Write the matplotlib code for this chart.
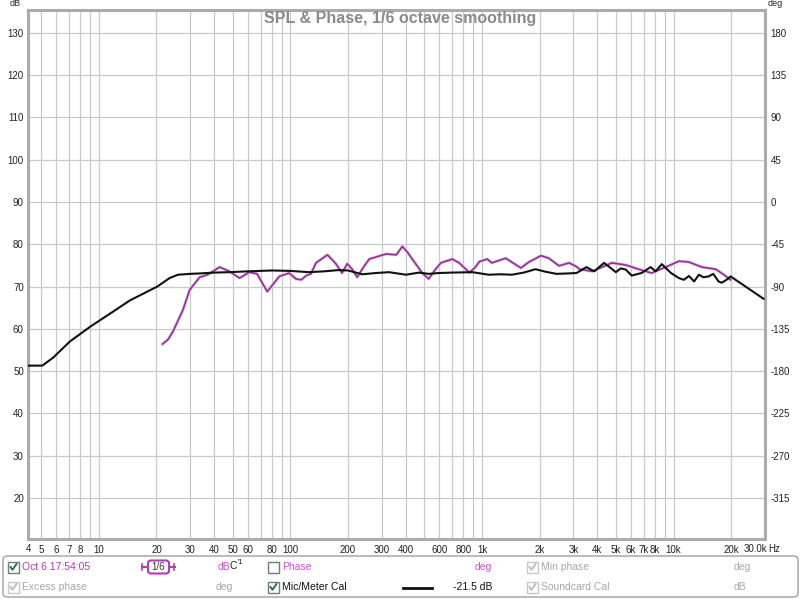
import matplotlib
matplotlib.use("Agg")
import matplotlib.pyplot as plt
from matplotlib.patches import FancyBboxPatch, Rectangle
from matplotlib.lines import Line2D

# ---------------- data ----------------
cal_freq = [4.27, 5.07, 5.78, 7.06, 9.08, 11.9, 14.5, 20.2, 23.4, 25.9, 30, 33.6, 40, 48,
            60, 80, 100, 125, 150, 179, 200, 237, 280, 327, 401, 469, 527, 594, 700, 890,
            1085, 1250, 1432, 1650, 1903, 2150, 2448, 2800, 3117, 3506, 3852, 4338, 4999,
            5300, 5630, 6044, 6806, 7584, 8060, 8677, 9694, 10665, 11300, 12035, 12800,
            13549, 14300, 15254, 16100, 17175, 17800, 18900, 19834, 29500]
cal_db = [51.3, 51.3, 53.2, 57.0, 60.6, 64.1, 66.7, 70.0, 72.0, 72.8, 73.0, 73.1, 73.3, 73.4,
          73.6, 73.8, 73.7, 73.4, 73.6, 73.9, 73.8, 72.9, 73.2, 73.4, 72.8, 73.3, 73.0, 73.2,
          73.3, 73.4, 72.8, 72.9, 72.8, 73.3, 74.1, 73.5, 73.0, 73.1, 73.2, 74.6, 73.6, 75.6,
          73.4, 74.3, 74.0, 72.6, 73.2, 74.6, 73.6, 75.3, 73.2, 72.0, 71.6, 72.5, 71.2,
          72.8, 72.2, 72.4, 73.0, 71.2, 70.9, 71.6, 72.4, 67.1]

meas_freq = [21.5, 23, 24.4, 27.5, 29.8, 33.6, 37, 42.7, 48, 54.3, 61, 67, 75.7, 87.5, 98.6,
             107, 114, 121, 128, 136, 156, 172, 186, 198, 211, 223, 240, 258, 290, 316, 357,
             384, 410, 434, 488, 527, 570, 610, 700, 760, 859, 920, 970, 1065, 1125, 1330,
             1595, 1758, 2033, 2234, 2524, 2850, 3117, 3227, 3770, 4000, 4766, 5630, 6570,
             7674, 9094, 10665, 12000, 14050, 16600, 18300, 19830]
meas_db = [56.4, 57.5, 59.4, 64.5, 69.2, 72.2, 72.8, 74.6, 73.6, 72.0, 73.4, 73.0, 68.8, 72.4,
           73.2, 71.8, 71.6, 72.6, 73.0, 75.6, 77.5, 75.5, 73.2, 75.4, 74.0, 72.2, 74.5, 76.5,
           77.2, 77.7, 77.5, 79.5, 78.0, 76.4, 73.2, 71.8, 74.0, 75.6, 76.5, 75.6, 73.3, 74.5,
           75.9, 76.5, 75.6, 76.7, 74.4, 75.8, 77.3, 76.7, 74.9, 75.6, 74.7, 74.1, 73.6, 74.1,
           75.6, 75.1, 74.1, 73.2, 74.6, 76.0, 75.8, 74.6, 74.1, 72.8, 71.6]

x_ticks = [5, 6, 7, 8, 10, 20, 30, 40, 50, 60, 80, 100, 200, 300, 400, 600, 800,
           1000, 2000, 3000, 4000, 5000, 6000, 7000, 8000, 10000, 20000]
x_labels = ["5", "6", "7", "8", "10", "20", "30", "40", "50", "60", "80", "100", "200",
            "300", "400", "600", "800", "1k", "2k", "3k", "4k", "5k", "6k", "7k", "8k",
            "10k", "20k"]
db_ticks = [20, 30, 40, 50, 60, 70, 80, 90, 100, 110, 120, 130]
deg_ticks = [180, 135, 90, 45, 0, -45, -90, -135, -180, -225, -270, -315]

# ---------------- figure ----------------
W, H = 800, 599
plt.rcParams['font.family'] = ['Liberation Sans', 'DejaVu Sans']
fig = plt.figure(figsize=(W / 100, H / 100), dpi=100)
fig.patch.set_facecolor('white')

def fx(px):
    return px / W

def fy(py):
    return 1 - py / H

L, R, T, B = 28, 765, 10, 539
ax = fig.add_axes([fx(L), fy(B), fx(R) - fx(L), fy(T) - fy(B)])
ax.set_xscale('log')
xmin, xmax = 4.27, 30000
ax.set_xlim(xmin, xmax)
ymin, ymax = 10.3, 135.4
ax.set_ylim(ymin, ymax)

# grid lines at every 1..9 multiple
grid_col = '#c9c9c9'
for dec in [1, 10, 100, 1000, 10000]:
    for m in range(1, 10):
        f = m * dec
        if xmin < f < xmax:
            ax.axvline(f, color=grid_col, lw=0.9, zorder=1)
for v in db_ticks:
    ax.axhline(v, color=grid_col, lw=0.9, zorder=1)

ax.plot(cal_freq, cal_db, color='#111111', lw=1.5, zorder=4, solid_joinstyle='round')
ax.plot(meas_freq, meas_db, color='#ecc6ec', lw=2.4, zorder=3, solid_joinstyle='round')
ax.plot(meas_freq, meas_db, color='#8a3490', lw=1.2, zorder=3.5, solid_joinstyle='round')

ax.set_xticks(x_ticks)
ax.set_xticklabels(x_labels)
ax.minorticks_off()
ax.set_yticks(db_ticks)
ax.set_yticklabels([str(v) for v in db_ticks])
ax.tick_params(axis='both', length=0, labelsize=7, colors='#222222')
ax.tick_params(axis='x', pad=4)
ax.tick_params(axis='y', pad=3)
for s in ax.spines.values():
    s.set_color('#ababab')
    s.set_linewidth(2.2)

ax2 = ax.twinx()
ax2.set_ylim((ymin - 90) * 4.5, (ymax - 90) * 4.5)
ax2.set_yticks(deg_ticks)
ax2.set_yticklabels([str(v) for v in deg_ticks])
ax2.tick_params(axis='y', length=0, labelsize=7, colors='#222222', pad=4)
for s in ax2.spines.values():
    s.set_visible(False)

# extra axis texts
fig.text(fx(L + 1), fy(B + 10), "4", fontsize=7, color='#222222', ha='center', va='center')
fig.text(fx(756), fy(B + 10), "30.0k", fontsize=7, color='#222222', ha='center', va='center')
fig.text(fx(768), fy(B + 10), "Hz", fontsize=7, color='#222222', ha='left', va='center')
fig.text(fx(15), fy(4), "dB", fontsize=6.5, color='#222222', ha='center', va='center')
fig.text(fx(775), fy(4), "deg", fontsize=6.5, color='#222222', ha='center', va='center')
fig.text(fx(400), fy(19), "SPL & Phase, 1/6 octave smoothing", fontsize=11.5,
         fontweight='bold', color='#8a8a8a', ha='center', va='center')

# ---------------- legend panel ----------------
box = FancyBboxPatch((fx(3), fy(597)), fx(795), fy(556) - fy(597),
                     boxstyle="round,pad=0,rounding_size=0.006",
                     transform=fig.transFigure, facecolor='white',
                     edgecolor='#a0a0a0', lw=1.0, zorder=0)
fig.patches.append(box)

def checkbox(x, y, checked=True, active=True):
    s = 11
    ec = '#6f7f77' if active else '#c8c8c8'
    r = Rectangle((fx(x), fy(y + s / 2)), fx(s), fy(y - s / 2) - fy(y + s / 2),
                  transform=fig.transFigure, facecolor='white', edgecolor=ec, lw=1.0,
                  zorder=2)
    fig.patches.append(r)
    if checked:
        cc = '#2f6f4f' if active else '#c0c0c0'
        xs = [x + 2.5, x + 4.5, x + 8.5]
        ys = [y, y + 2.8, y - 3.0]
        fig.add_artist(Line2D([fx(v) for v in xs], [fy(v) for v in ys],
                              transform=fig.transFigure, color=cc, lw=1.4, zorder=3))

r1, r2 = 567, 587
fs = 7.5
mag = '#b23cb6'
lmag = '#d050d6'
gray = '#a8a8a8'

checkbox(8, r1, True, True)
fig.text(fx(22), fy(r1), "Oct 6 17:54:05", fontsize=fs, color=mag, ha='left', va='center')
# smoothing icon
fig.add_artist(Line2D([fx(142), fx(175)], [fy(r1), fy(r1)], transform=fig.transFigure,
                      color=mag, lw=1.5, zorder=1))
fig.add_artist(Line2D([fx(142), fx(142)], [fy(r1 - 3), fy(r1 + 3)], transform=fig.transFigure,
                      color=mag, lw=1.2, zorder=1))
fig.add_artist(Line2D([fx(174), fx(174)], [fy(r1 - 3), fy(r1 + 3)], transform=fig.transFigure,
                      color=mag, lw=1.2, zorder=1))
sb = FancyBboxPatch((fx(148), fy(r1 + 6.5)), fx(21), fy(r1 - 6.5) - fy(r1 + 6.5),
                    boxstyle="round,pad=0,rounding_size=0.004",
                    transform=fig.transFigure, facecolor='white', edgecolor=mag, lw=1.5,
                    zorder=3)
fig.patches.append(sb)
fig.text(fx(158.5), fy(r1), "1/6", fontsize=7, color='#333333', ha='center', va='center',
         zorder=5)
fig.text(fx(230), fy(r1), "dB", fontsize=fs, color=lmag, ha='right', va='center')
fig.text(fx(230), fy(r1 - 1), "C", fontsize=fs, color='#222222', ha='left', va='center')
fig.text(fx(237.5), fy(r1 - 4), "'1", fontsize=5.5, color='#222222', ha='left', va='center')

checkbox(268, r1, False, True)
fig.text(fx(282), fy(r1), "Phase", fontsize=fs, color=lmag, ha='left', va='center')
fig.text(fx(483), fy(r1), "deg", fontsize=fs, color=lmag, ha='center', va='center')
checkbox(527, r1, True, False)
fig.text(fx(541), fy(r1), "Min phase", fontsize=fs, color=gray, ha='left', va='center')
fig.text(fx(742), fy(r1), "deg", fontsize=fs, color=gray, ha='center', va='center')

checkbox(8, r2, True, False)
fig.text(fx(22), fy(r2), "Excess phase", fontsize=fs, color=gray, ha='left', va='center')
fig.text(fx(224), fy(r2), "deg", fontsize=fs, color=gray, ha='center', va='center')
checkbox(268, r2, True, True)
fig.text(fx(282), fy(r2), "Mic/Meter Cal", fontsize=fs, color='#111111', ha='left', va='center')
fig.add_artist(Line2D([fx(403), fx(432)], [fy(r2 + 1), fy(r2 + 1)], transform=fig.transFigure,
                      color='#111111', lw=2.0))
fig.text(fx(492), fy(r2), "-21.5 dB", fontsize=fs, color='#111111', ha='right', va='center')
checkbox(527, r2, True, False)
fig.text(fx(541), fy(r2), "Soundcard Cal", fontsize=fs, color=gray, ha='left', va='center')
fig.text(fx(740), fy(r2), "dB", fontsize=fs, color=gray, ha='center', va='center')

fig.savefig("out.png", dpi=100, facecolor='white')
